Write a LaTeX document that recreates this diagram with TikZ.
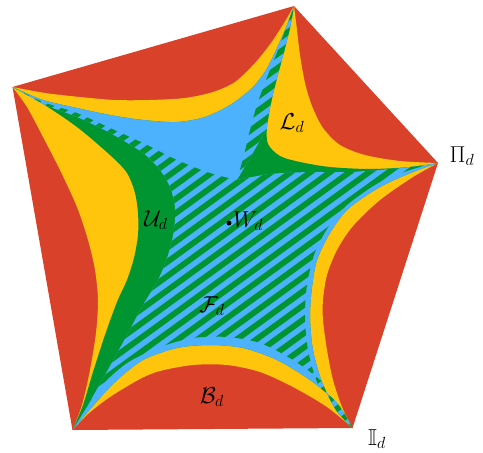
\RequirePackage{fix-cm}
\documentclass[tikz,border=0pt]{standalone}
\usepackage{amsmath,amssymb}
\definecolor{cred}{RGB}{217,65,43}
\definecolor{cyel}{RGB}{254,197,12}
\definecolor{cblue}{RGB}{76,178,254}
\definecolor{cgreen}{RGB}{0,149,48}
\tikzset{
  lab/.style={inner sep=0pt, font=\fontsize{23}{28}\selectfont},
  stripe/.style={cgreen, line width=5.8pt},
}
\begin{document}
\begin{tikzpicture}[x=1pt,y=-1pt]
\useasboundingbox (0,0) rectangle (483,453);
\coordinate (A) at (294,6);
\coordinate (B) at (438,163);
\coordinate (C) at (352.5,428);
\coordinate (D) at (72.5,430);
\coordinate (E) at (12.5,87);
% pentagon
\fill[cred] (A) -- (B) -- (C) -- (D) -- (E) -- cycle;
% yellow star
\fill[cyel] plot[smooth] coordinates {(12.5,87) (45,93) (80,97) (115,100) (150,100) (185,98) (213,92) (235,82) (255,63) (271,43) (284,23) (294,6)}
  -- plot[smooth] coordinates {(294,6) (297,30) (300,55) (305,83) (312,106) (323,128) (340,145) (365,155) (400,161) (438,163)}
  -- plot[smooth] coordinates {(438,163) (413,177) (380,200) (353,226) (337,250) (327,275) (323,300) (323,320) (327,350) (333,380) (342,407) (352.5,428)}
  -- plot[smooth] coordinates {(352.5,428) (327,407) (293,387) (260,372) (227,365) (193,365) (160,371) (140,379) (110,397) (88,414) (72.5,430)}
  -- plot[smooth] coordinates {(72.5,430) (82,405) (90,370) (96,333) (98,300) (95,270) (88,240) (77,207) (60,170) (43,137) (27,107) (12.5,87)}
  -- cycle;
% inner region U
\begin{scope}
\clip plot[smooth] coordinates {(12.5,87) (43,100) (77,108) (110,115) (143,120) (177,122) (205,117) (230,105) (252,88) (266,70) (277,48) (287,25) (294,6)}
  -- plot[smooth] coordinates {(294,6) (290,28) (284,52) (277,78) (271,103) (267,127) (268,144) (280,156) (300,162) (330,167) (370,169) (410,167) (438,163)}
  -- plot[smooth] coordinates {(438,163) (413,172) (380,187) (348,209) (330,233) (317,260) (312,287) (310,317) (313,350) (322,382) (336,410) (352.5,428)}
  -- plot[smooth] coordinates {(352.5,428) (337,403) (310,380) (277,360) (243,348) (210,345) (177,348) (143,360) (115,382) (92,407) (72.5,430)}
  -- plot[smooth] coordinates {(72.5,430) (83,405) (93,372) (105,335) (117,302) (127,280) (134,258) (138,235) (138,213) (135,193) (127,173) (110,155) (77,127) (43,104) (12.5,87)}
  -- cycle;
\fill[cgreen] (0,0) rectangle (483,453);
% blue set
\fill[cblue] (E) -- (A) -- (300,60) -- (285,95)
  -- plot[smooth] coordinates {(285,95) (271,121) (254,151) (237,180)}
  -- plot[smooth] coordinates {(237,180) (270,174) (310,172) (350,172) (400,168) (438,163)}
  -- (C) -- (D)
  -- plot[smooth] coordinates {(72.5,430) (85,410) (105,375) (127,335) (143,305) (158,280) (168,255) (174,230) (175,207) (170,187) (160,170) (143,153) (110,133) (77,117) (43,104) (12.5,87)}
  -- cycle;
% hatched intersection
\begin{scope}
\clip plot[smooth] coordinates {(12.5,87) (43,102) (77,113) (110,128) (143,143) (177,160) (210,173) (237,180)}
  -- plot[smooth] coordinates {(237,180) (244,155) (250,130) (257,105) (266,80) (278,50) (287,25) (294,6)}
  -- (B)
  -- plot[smooth] coordinates {(438,163) (413,169) (380,182) (347,205) (327,229) (314,255) (307,285) (305,317) (308,350) (317,382) (332,410) (352.5,428)}
  -- plot[smooth] coordinates {(352.5,428) (340,403) (320,380) (293,360) (260,343) (227,337) (193,338) (160,347) (127,363) (100,387) (85,410) (72.5,430)}
  -- cycle;
\clip (E) -- (A) -- (300,60) -- (285,95)
  -- plot[smooth] coordinates {(285,95) (271,121) (254,151) (237,180)}
  -- plot[smooth] coordinates {(237,180) (270,174) (310,172) (350,172) (400,168) (438,163)}
  -- (C) -- (D)
  -- plot[smooth] coordinates {(72.5,430) (85,410) (105,375) (127,335) (143,305) (158,280) (168,255) (174,230) (175,207) (170,187) (160,170) (143,153) (110,133) (77,117) (43,104) (12.5,87)}
  -- cycle;
\begin{scope}[rotate around={36:(240,240)}]
\foreach \k in {-45,...,45} {
  \draw[stripe] (-300,238+\k*11.5) -- (800,238+\k*11.5);
}
\end{scope}
\end{scope}
\end{scope}
% labels
\node[lab] (L) at (292,123) {$\mathcal{L}_d$};
\node[lab] (U) at (156,220) {$\mathcal{U}_d$};
\node[lab] (F) at (212,306) {$\mathcal{F}_d$};
\node[lab] (Bd) at (212,397) {$\mathcal{B}_d$};
\node[lab] (Pi) at (462,156) {$\Pi_d$};
\node[lab] (Id) at (377,439) {$\mathbb{I}_d$};
\node[circle, fill=black, inner sep=0pt, minimum size=5pt] (w) at (229,223) {};
\node[lab, anchor=west] (W) at (233,221) {$W_d$};
\end{tikzpicture}
\end{document}
